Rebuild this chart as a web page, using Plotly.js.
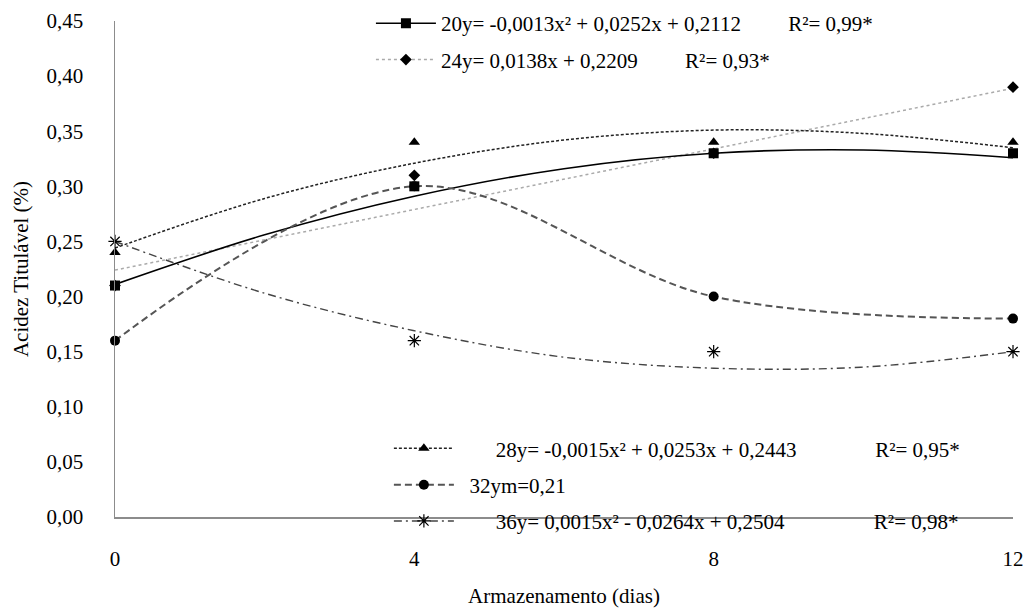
<!DOCTYPE html>
<html>
<head>
<meta charset="utf-8">
<script src="https://cdn.plot.ly/plotly-3.0.1.min.js"></script>
<style>html,body{margin:0;padding:0;background:#fff;}#chart{width:1029px;height:610px;}</style>
</head>
<body>
<div id="chart"></div>
<script>
// Storage days
const days = [0, 4, 8, 12];
// Observed titratable acidity (%) per temperature
const obs20 = [0.21, 0.30, 0.33, 0.33];
const obs24 = [0.21, 0.31, 0.33, 0.39];
const obs28 = [0.24, 0.34, 0.34, 0.34];
const obs32 = [0.16, 0.30, 0.20, 0.18];
const obs36 = [0.25, 0.16, 0.15, 0.15];
// Fitted curves
const fitDays = [0, 2, 4, 6, 8, 10, 12];
const fit20 = [0.211, 0.256, 0.291, 0.316, 0.330, 0.333, 0.326];
const fit28 = [0.244, 0.289, 0.321, 0.342, 0.351, 0.348, 0.335];
const fit36 = [0.250, 0.203, 0.169, 0.145, 0.135, 0.136, 0.150];
const fit24Days = [0, 12];
const fit24 = [0.224, 0.389];
// Legend labels
const nb = n => '\u00a0'.repeat(n);
const label20 = '20y= -0,0013x² + 0,0252x + 0,2112' + nb(9) + 'R²= 0,99*';
const label24 = '24y= 0,0138x + 0,2209' + nb(9) + 'R²= 0,93*';
const label28 = nb(7) + '28y= -0,0015x² + 0,0253x + 0,2443' + nb(15) + 'R²= 0,95*';
const label32 = nb(2) + '32ym=0,21';
const label36 = nb(7) + '36y= 0,0015x² - 0,0264x + 0,2504' + nb(17) + 'R²= 0,98*';
const yTicks = [0, 0.05, 0.10, 0.15, 0.20, 0.25, 0.30, 0.35, 0.40, 0.45];
const xTicks = [0, 4, 8, 12];

const st = {
  s20: {line: {color: '#000', width: 1.6, dash: 'solid'}, marker: {symbol: 'square', size: 10, color: '#000'}},
  s24: {line: {color: '#aaa', width: 1.5, dash: 'dot'}, marker: {symbol: 'diamond', size: 9, color: '#000'}},
  s28: {line: {color: '#222', width: 1.5, dash: '3px,2px'}, marker: {symbol: 'triangle-up', size: 10, color: '#000'}},
  s32: {line: {color: '#555', width: 2, dash: '7px,4px'}, marker: {symbol: 'circle', size: 10, color: '#000'}},
  s36: {line: {color: '#444', width: 1.4, dash: '8px,4px,2px,4px'}, marker: {symbol: 'asterisk-open', size: 11, color: '#000', line: {color: '#000', width: 1.2}}}
};

function fitTrace(x, y, s, shape) {
  return {x: x, y: y, mode: 'lines', line: Object.assign({shape: shape || 'spline'}, s.line), showlegend: false, hoverinfo: 'skip', cliponaxis: false};
}
function obsTrace(y, s, mode) {
  return {x: days, y: y, mode: mode || 'markers', marker: s.marker, line: Object.assign({shape: 'spline', smoothing: 1}, s.line), showlegend: false, cliponaxis: false};
}
function legTrace(name, s, legend, grp) {
  return {x: [null], y: [null], mode: 'lines+markers', name: name, line: s.line, marker: s.marker, legend: legend, legendgroup: grp, showlegend: true};
}

const data = [];
data.push(fitTrace(fitDays, fit36, st.s36));
data.push(fitTrace(fit24Days, fit24, st.s24, 'linear'));
data.push(fitTrace(fitDays, fit28, st.s28));
data.push(fitTrace(fitDays, fit20, st.s20));
data.push(obsTrace(obs32, st.s32, 'lines+markers'));
data.push(obsTrace(obs36, st.s36));
data.push(obsTrace(obs24, st.s24));
data.push(obsTrace(obs28, st.s28));
data.push(obsTrace(obs20, st.s20));
data.push(legTrace(label20, st.s20, 'legend', 'g1'));
data.push(legTrace(label24, st.s24, 'legend', 'g2'));
data.push(legTrace(label28, st.s28, 'legend2', 'g3'));
data.push(legTrace(label32, st.s32, 'legend2', 'g4'));
data.push(legTrace(label36, st.s36, 'legend2', 'g5'));

const layout = {
  width: 1029, height: 610,
  margin: {l: 115, r: 16, t: 21, b: 93, autoexpand: false},
  paper_bgcolor: '#fff', plot_bgcolor: '#fff',
  separators: ',.',
  font: {family: 'Liberation Serif', size: 21, color: '#000'},
  xaxis: {
    range: [0, 12], tickvals: xTicks, ticktext: xTicks.map(String),
    showgrid: false, zeroline: false, showline: true, linecolor: '#8c8c8c', linewidth: 1.5,
    ticks: 'outside', ticklen: 22, tickcolor: 'rgba(0,0,0,0)',
    title: {text: 'Armazenamento (dias)', font: {size: 21}, standoff: 18}
  },
  yaxis: {
    range: [0, 0.45], tickvals: yTicks, tickformat: '.2f',
    showgrid: false, zeroline: false, showline: true, linecolor: '#8c8c8c', linewidth: 1.5,
    ticks: 'outside', ticklen: 26, tickcolor: 'rgba(0,0,0,0)',
    title: {text: 'Acidez Titulável (%)', font: {size: 21}, standoff: 12}
  },
  legend: {
    x: 0.285, y: 1.036, xanchor: 'left', yanchor: 'top',
    bgcolor: 'rgba(0,0,0,0)',
    traceorder: 'grouped', tracegroupgap: 6, itemwidth: 60
  },
  legend2: {
    x: 0.305, y: 0.179, xanchor: 'left', yanchor: 'top',
    bgcolor: 'rgba(0,0,0,0)',
    traceorder: 'grouped', tracegroupgap: 6, itemwidth: 60
  },
  showlegend: true
};

Plotly.newPlot('chart', data, layout, {displayModeBar: false, staticPlot: true});
</script>
</body>
</html>
